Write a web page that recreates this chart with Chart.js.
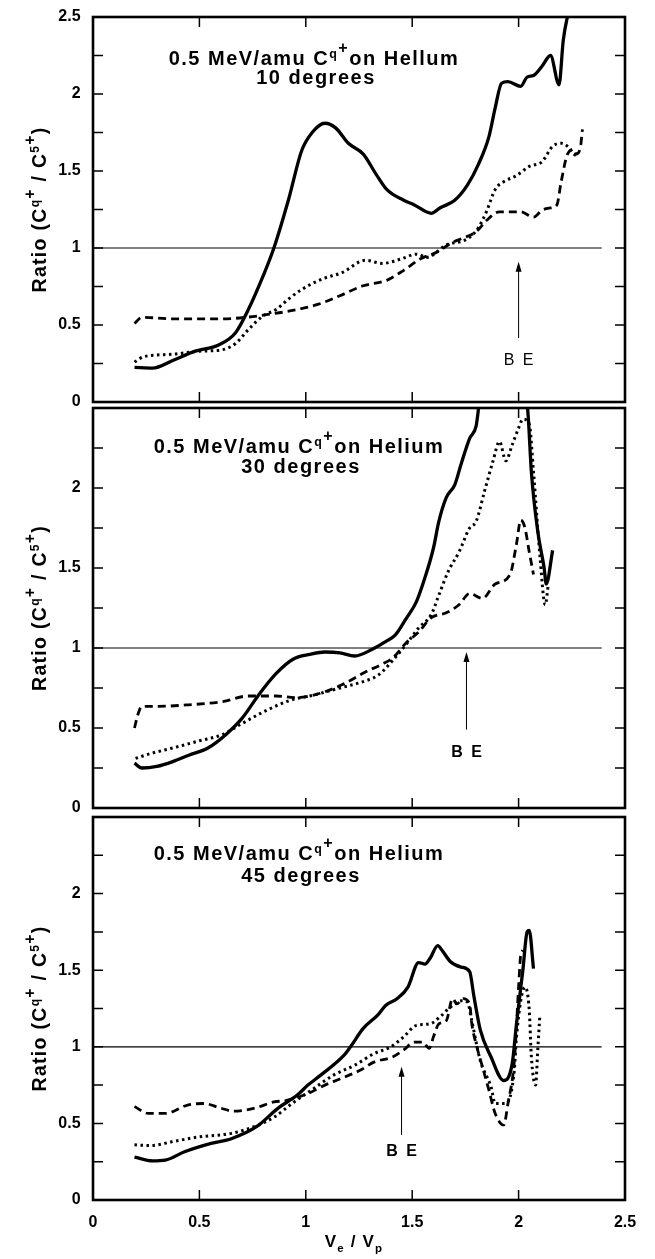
<!DOCTYPE html>
<html>
<head>
<meta charset="utf-8">
<title>Ratio C q+ / C 5+ vs ve/Vp</title>
<script src="https://cdn.jsdelivr.net/npm/chart.js@4.4.1/dist/chart.umd.min.js"></script>
<style>
  html, body { margin: 0; padding: 0; background: #fff; }
  body { position: relative; width: 655px; height: 1259px; overflow: hidden; }
  canvas { position: absolute; left: 0; }
</style>
</head>
<body>
<canvas id="deg10" width="655" height="429" style="top:-5px"></canvas>
<canvas id="deg30" width="655" height="444" style="top:386px"></canvas>
<canvas id="deg45" width="655" height="464" style="top:795px"></canvas>
<script>
// x = ve / Vp, y = ratio. solid / dotted / dashed curve per panel
const deg10SolidX = [0.195,0.28,0.375,0.48,0.59,0.67,0.73,0.80,0.85,0.92,0.98,1.03,1.09,1.14,1.20,1.27,1.33,1.38,1.46,1.51,1.59,1.63,1.70,1.76,1.81,1.86,1.89,1.92,1.95,2.01,2.04,2.07,2.11,2.15,2.19,2.21,2.245];
const deg10SolidY = [0.225,0.22,0.27,0.33,0.37,0.45,0.60,0.82,1.0,1.32,1.63,1.75,1.81,1.78,1.68,1.61,1.48,1.38,1.31,1.28,1.225,1.26,1.31,1.41,1.54,1.72,1.91,2.07,2.08,2.05,2.11,2.12,2.18,2.25,2.06,2.35,2.6];
const deg10DotX = [0.195,0.24,0.375,0.50,0.61,0.67,0.73,0.80,0.86,0.92,0.98,1.08,1.17,1.28,1.36,1.45,1.52,1.57,1.66,1.76,1.81,1.85,1.89,1.93,1.99,2.05,2.11,2.16,2.20,2.23,2.26,2.28];
const deg10DotY = [0.26,0.295,0.31,0.33,0.34,0.38,0.47,0.56,0.60,0.67,0.73,0.80,0.84,0.92,0.90,0.93,0.96,0.94,1.02,1.06,1.13,1.24,1.38,1.43,1.47,1.53,1.56,1.66,1.68,1.66,1.61,1.59];
const deg10DashX = [0.195,0.23,0.375,0.61,0.72,0.83,0.92,1.06,1.16,1.27,1.38,1.46,1.54,1.62,1.68,1.73,1.80,1.85,1.91,2.01,2.07,2.11,2.15,2.18,2.20,2.23,2.26,2.27,2.29,2.30];
const deg10DashY = [0.51,0.55,0.54,0.54,0.55,0.57,0.59,0.635,0.69,0.755,0.79,0.855,0.93,0.975,1.03,1.06,1.105,1.18,1.235,1.235,1.20,1.245,1.26,1.28,1.43,1.61,1.64,1.61,1.65,1.77];

const deg30SolidX = [0.195,0.23,0.30,0.375,0.45,0.54,0.625,0.70,0.78,0.86,0.94,1.02,1.09,1.16,1.23,1.31,1.375,1.42,1.47,1.52,1.56,1.60,1.625,1.66,1.70,1.73,1.77,1.80,1.83,2.03,2.045,2.06,2.09,2.12,2.13,2.16];
const deg30SolidY = [0.28,0.25,0.26,0.29,0.33,0.375,0.46,0.56,0.71,0.84,0.93,0.96,0.975,0.97,0.95,0.99,1.04,1.08,1.18,1.29,1.44,1.625,1.79,1.94,2.02,2.15,2.31,2.385,2.65,2.65,2.45,2.10,1.73,1.50,1.40,1.61];
const deg30DotX = [0.20,0.27,0.375,0.50,0.61,0.69,0.80,0.92,1.05,1.16,1.27,1.34,1.42,1.47,1.53,1.59,1.625,1.67,1.72,1.77,1.80,1.84,1.88,1.91,1.94,1.97,2.00,2.02,2.05,2.07,2.10,2.125,2.14];
const deg30DotY = [0.31,0.34,0.375,0.42,0.46,0.52,0.60,0.67,0.71,0.75,0.79,0.83,0.94,1.02,1.125,1.21,1.33,1.48,1.60,1.75,1.79,1.98,2.17,2.29,2.17,2.27,2.375,2.43,2.40,2.10,1.58,1.27,1.40];
const deg30DashX = [0.195,0.21,0.23,0.30,0.45,0.61,0.73,0.86,0.95,1.05,1.17,1.28,1.36,1.41,1.47,1.53,1.59,1.66,1.72,1.77,1.83,1.89,1.96,1.99,2.01,2.03,2.05,2.07];
const deg30DashY = [0.50,0.58,0.635,0.635,0.645,0.665,0.70,0.70,0.69,0.71,0.77,0.85,0.90,0.94,1.03,1.10,1.19,1.22,1.27,1.34,1.31,1.40,1.46,1.65,1.80,1.75,1.60,1.46];

const deg45SolidX = [0.195,0.28,0.34,0.43,0.555,0.65,0.77,0.87,0.96,1.01,1.07,1.18,1.21,1.27,1.34,1.375,1.43,1.48,1.53,1.56,1.585,1.62,1.64,1.68,1.73,1.77,1.79,1.82,1.87,1.93,1.97,1.99,2.02,2.04,2.05,2.07];
const deg45SolidY = [0.28,0.255,0.26,0.315,0.37,0.40,0.48,0.60,0.685,0.75,0.815,0.945,1.0,1.12,1.21,1.27,1.315,1.39,1.55,1.54,1.58,1.66,1.63,1.555,1.52,1.49,1.33,1.11,0.935,0.78,0.89,1.15,1.50,1.75,1.76,1.51];
const deg45DotX = [0.195,0.27,0.37,0.49,0.65,0.76,0.85,0.945,1.04,1.13,1.23,1.32,1.40,1.46,1.52,1.585,1.63,1.68,1.73,1.76,1.78,1.82,1.87,1.89,1.94,1.98,1.99,2.03,2.05,2.06,2.08,2.09,2.10];
const deg45DotY = [0.36,0.355,0.38,0.41,0.435,0.48,0.54,0.64,0.73,0.815,0.88,0.955,1.0,1.065,1.14,1.15,1.195,1.26,1.30,1.29,1.17,0.91,0.74,0.63,0.63,0.85,1.065,1.39,1.24,0.935,0.75,0.98,1.21];
const deg45DashX = [0.195,0.26,0.34,0.445,0.52,0.60,0.66,0.76,0.85,0.91,1.01,1.09,1.16,1.26,1.32,1.41,1.46,1.51,1.55,1.58,1.60,1.625,1.66,1.69,1.71,1.74,1.77,1.78,1.80,1.83,1.86,1.89,1.93,1.95,1.98,2.00,2.01,2.02];
const deg45DashY = [0.61,0.565,0.565,0.62,0.63,0.60,0.58,0.60,0.64,0.65,0.695,0.75,0.79,0.85,0.90,0.935,0.98,1.03,1.03,0.99,1.065,1.15,1.17,1.315,1.28,1.315,1.28,1.15,1.02,0.87,0.72,0.565,0.49,0.63,0.91,1.39,1.60,1.63];

// reference line at ratio = 1
const unityX = [0, 2.39];
const unityY = [1, 1];

// tick labels and tick marks
const xTickLabels = ["0", "0.5", "1", "1.5", "2", "2.5"];
const yTickLabels = ["0", "0.5", "1", "1.5", "2", "2.5"];
const xTickMarks = [0.5, 1, 1.5, 2];
const yTickMarks = [0.25, 0.5, 0.75, 1, 1.25, 1.5, 1.75, 2, 2.25];

// binding energy arrows (10, 30, 45 degrees)
const beArrowX = [2.0, 1.755, 1.45];
const beArrowFrom = [0.415, 0.49, 0.425];
const beArrowTo = [0.91, 0.975, 0.87];
const beLabelY = [0.24, 0.32, 0.29];

const FONT = '"Liberation Sans", Arial, Helvetica, sans-serif';
Chart.defaults.font.family = FONT;
Chart.defaults.color = '#000';

const KIND = {
  n: {scale: 1, dy: 0},
  sup: {scale: 0.62, dy: -0.36},
  sup2: {scale: 0.8, dy: -0.58},
  sub: {scale: 0.68, dy: 0.32},
};

// text with super/subscripts, centred on cx
function drawRich(ctx, parts, cx, baseY, size, weight, spacing) {
  const fontOf = s => weight + ' ' + s + 'px ' + FONT;
  ctx.letterSpacing = '0px';
  const items = parts.map(([t, kind]) => {
    const k = KIND[kind];
    const s = size * k.scale;
    ctx.font = fontOf(s);
    return {t, s, dy: size * k.dy, w: ctx.measureText(t).width + spacing * t.length};
  });
  const total = items.reduce((a, b) => a + b.w, 0);
  let xx = cx - total / 2;
  ctx.textAlign = 'left';
  ctx.textBaseline = 'alphabetic';
  ctx.letterSpacing = spacing + 'px';
  items.forEach(it => {
    ctx.font = fontOf(it.s);
    ctx.fillText(it.t, xx, baseY + it.dy);
    xx += it.w;
  });
  ctx.letterSpacing = '0px';
}

const framePlugin = {
  id: 'frame',
  afterDatasetsDraw(chart) {
    const {ctx, chartArea: a, scales: {x, y}} = chart;
    ctx.save();
    ctx.strokeStyle = '#000';
    ctx.lineWidth = 1.5;
    ctx.beginPath();
    yTickMarks.forEach(v => {
      const py = y.getPixelForValue(v);
      ctx.moveTo(a.left, py); ctx.lineTo(a.left + 10, py);
      ctx.moveTo(a.right, py); ctx.lineTo(a.right - 10, py);
    });
    xTickMarks.forEach(v => {
      const px = x.getPixelForValue(v);
      ctx.moveTo(px, a.top); ctx.lineTo(px, a.top + 10);
      ctx.moveTo(px, a.bottom); ctx.lineTo(px, a.bottom - 10);
    });
    ctx.stroke();
    ctx.lineWidth = 2.6;
    ctx.strokeRect(a.left, a.top, a.right - a.left, a.bottom - a.top);
    ctx.restore();
  }
};

function textPlugin(p) {
  return {
    id: 'panelText',
    afterDraw(chart) {
      const {ctx, chartArea: a, scales: {x, y}} = chart;
      ctx.save();
      ctx.fillStyle = '#000';
      ctx.strokeStyle = '#000';

      // panel title
      drawRich(ctx, [['0.5 MeV/amu C', 'n'], ['q', 'sup'], ['+', 'sup2'], [p.gas, 'n']],
        p.titleX, a.top + p.title1, 20, 'bold', 1.5);
      drawRich(ctx, [[p.angle + ' degrees', 'n']], p.titleX + 2, a.top + p.title2, 20, 'bold', 1.5);

      // y-axis title
      ctx.save();
      ctx.translate(46, (a.top + a.bottom) / 2);
      ctx.rotate(-Math.PI / 2);
      drawRich(ctx, [['Ratio (C', 'n'], ['q', 'sup'], ['+', 'sup2'], [' / C', 'n'], ['5', 'sup'], ['+', 'sup2'], [')', 'n']],
        0, 0, 19.5, 'bold', 1.3);
      ctx.restore();

      // binding energy arrow
      const i = p.index;
      const ax = x.getPixelForValue(beArrowX[i]);
      const y0 = y.getPixelForValue(beArrowFrom[i]);
      const y1 = y.getPixelForValue(beArrowTo[i]);
      ctx.lineWidth = 1;
      ctx.beginPath();
      ctx.moveTo(ax, y0); ctx.lineTo(ax, y1 + 6);
      ctx.stroke();
      ctx.beginPath();
      ctx.moveTo(ax, y1); ctx.lineTo(ax - 3, y1 + 10); ctx.lineTo(ax + 3, y1 + 10);
      ctx.closePath();
      ctx.fill();
      drawRich(ctx, [['B E', 'n']], ax + 1, y.getPixelForValue(beLabelY[i]), 16, p.beWeight, 2);

      // x-axis title
      if (p.showX) {
        drawRich(ctx, [['V', 'n'], ['e', 'sub'], [' / V', 'n'], ['p', 'sub']],
          (a.left + a.right) / 2 - 5, a.bottom + 47, 17, 'bold', 1.2);
      }
      ctx.restore();
    }
  };
}

function series(xs, ys, width, dash) {
  return {
    data: xs.map((x, i) => ({x: x, y: ys[i]})),
    borderColor: '#000',
    borderWidth: width,
    borderDash: dash,
    borderCapStyle: 'butt',
    borderJoinStyle: 'round',
    pointRadius: 0,
    fill: false,
    cubicInterpolationMode: 'monotone',
  };
}

function makePanel(id, p) {
  const datasets = [
    series(unityX, unityY, 1.2, []),
    series(p.dashX, p.dashY, 2.8, [8, 5]),
    series(p.dotX, p.dotY, 3, [2.5, 3.5]),
    series(p.solidX, p.solidY, 3.3, []),
  ];
  const xScale = {
    type: 'linear', min: 0, max: 2.5,
    display: p.showX,
    grid: {display: false, drawTicks: false},
    border: {display: false},
    ticks: {
      stepSize: 0.5, padding: 13, maxRotation: 0,
      font: {size: 16, weight: 'bold'}, color: '#000',
      callback: v => xTickLabels[Math.round(v * 2)] ?? ''
    }
  };
  if (p.showX) xScale.afterFit = s => { s.height = 59; };

  new Chart(document.getElementById(id), {
    type: 'line',
    data: {datasets: datasets},
    options: {
      responsive: false,
      animation: false,
      devicePixelRatio: 1,
      layout: {padding: {top: 0, bottom: 0, left: 0, right: 30}},
      plugins: {legend: {display: false}, tooltip: {enabled: false}},
      scales: {
        x: xScale,
        y: {
          type: 'linear', min: 0, max: 2.5,
          grid: {display: false, drawTicks: false},
          border: {display: false},
          ticks: {
            stepSize: 0.25, padding: 12.4, autoSkip: false,
            font: {size: 16, weight: 'bold', lineHeight: 1.2}, color: '#000',
            callback: v => {
              const k = Math.round(v * 4);
              if (k % 2 !== 0) return '';
              if (k === 10 && !p.top) return '';
              return yTickLabels[k / 2];
            }
          },
          afterFit: s => { s.width = 93; }
        }
      }
    },
    plugins: [framePlugin, textPlugin(p)]
  });
}

makePanel('deg10', {
  index: 0, angle: 10, gas: 'on Hellum', top: true, showX: false,
  titleX: 314, title1: 48, title2: 67, beWeight: 'normal',
  solidX: deg10SolidX, solidY: deg10SolidY,
  dotX: deg10DotX, dotY: deg10DotY,
  dashX: deg10DashX, dashY: deg10DashY,
});
makePanel('deg30', {
  index: 1, angle: 30, gas: 'on Helium', top: false, showX: false,
  titleX: 299, title1: 45, title2: 65, beWeight: 'bold',
  solidX: deg30SolidX, solidY: deg30SolidY,
  dotX: deg30DotX, dotY: deg30DotY,
  dashX: deg30DashX, dashY: deg30DashY,
});
makePanel('deg45', {
  index: 2, angle: 45, gas: 'on Helium', top: false, showX: true,
  titleX: 299, title1: 43, title2: 65, beWeight: 'bold',
  solidX: deg45SolidX, solidY: deg45SolidY,
  dotX: deg45DotX, dotY: deg45DotY,
  dashX: deg45DashX, dashY: deg45DashY,
});
</script>
</body>
</html>
